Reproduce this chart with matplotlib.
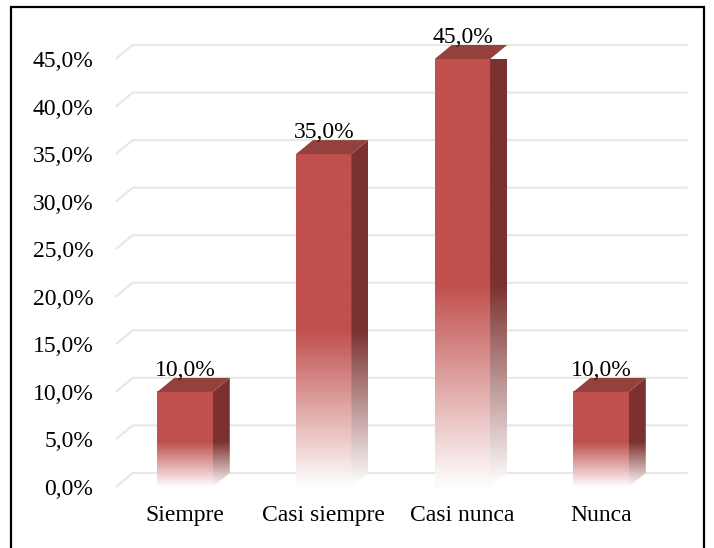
import numpy as np
import matplotlib
matplotlib.use("Agg")
import matplotlib.pyplot as plt
from matplotlib.patches import Polygon, Rectangle
from matplotlib import transforms

categories = ["Siempre", "Casi siempre", "Casi nunca", "Nunca"]
values = [10.0, 35.0, 45.0, 10.0]
y_ticks = [0, 5, 10, 15, 20, 25, 30, 35, 40, 45]

FRONT = np.array([0xC0, 0x50, 0x4D]) / 255
TOP = "#94403D"
SIDE = np.array([0x7B, 0x32, 0x30]) / 255
GRID = "#E8E8E8"
FADE = 0.47          # lower part of each bar that fades out to white

plt.rcParams["font.family"] = ["Liberation Serif", "DejaVu Serif"]
plt.rcParams["font.size"] = 17

W, H = 714, 548
fig = plt.figure(figsize=(W / 100, H / 100), dpi=100)
ax = fig.add_axes([115.7 / W, 61 / H, 554.7 / W, 428 / H])
ax.set_xlim(-0.5, 3.5)
ax.set_ylim(0, 45)

# depth of the fake 3D extrusion, converted from pixels to data units
px_x = (ax.transData.transform((1, 0)) - ax.transData.transform((0, 0)))[0]
px_y = (ax.transData.transform((0, 1)) - ax.transData.transform((0, 0)))[1]
dx = 17 / px_x
dy = 14 / px_y
bar_w = 0.4

# gridlines sit on the back wall, with a short slanted bit on the left wall
for v in y_ticks:
    ax.plot([-0.5, -0.5 + dx, 3.5 + dx], [v, v + dy, v + dy],
            color=GRID, lw=1.6, zorder=0, clip_on=False, solid_capstyle="butt")


def fade_image(rgb, y_top, v, n=300):
    ys = np.linspace(0, y_top, n)
    t = np.clip(ys / (FADE * v), 0.03, 1.0)[:, None]
    col = 1 - (1 - rgb[None, :]) * t
    return np.repeat(col[:, None, :], 2, axis=1)


for i, v in enumerate(values):
    x0, x1 = i - bar_w / 2, i + bar_w / 2

    # front face
    ax.imshow(fade_image(FRONT, v, v), extent=[x0, x1, 0, v], origin="lower",
              aspect="auto", interpolation="bilinear", zorder=2)

    # right side face
    side = Polygon([(x1, 0), (x1 + dx, dy), (x1 + dx, v + dy), (x1, v)],
                   closed=True, facecolor="none", edgecolor="none",
                   transform=ax.transData)
    ax.add_patch(side)
    im = ax.imshow(fade_image(SIDE, v + dy, v), extent=[x1, x1 + dx, 0, v + dy],
                   origin="lower", aspect="auto", interpolation="bilinear", zorder=2)
    im.set_clip_path(side)

    # top face
    ax.add_patch(Polygon([(x0, v), (x1, v), (x1 + dx, v + dy), (x0 + dx, v + dy)],
                         closed=True, facecolor=TOP, edgecolor="none", zorder=3,
                         clip_on=False))

    # value label
    lift = transforms.offset_copy(ax.transData, fig=fig, x=0, y=2, units="dots")
    ax.text(i, v + dy, f"{v:.1f}%".replace(".", ","), ha="center", va="baseline",
            transform=lift, zorder=4, clip_on=False)

ax.set_xlim(-0.5, 3.5)
ax.set_ylim(0, 45)
ax.set_xticks(range(len(categories)))
ax.set_xticklabels(categories)
ax.set_yticks(y_ticks)
ax.set_yticklabels([f"{t:.1f}%".replace(".", ",") for t in y_ticks])
ax.tick_params(axis="y", length=0, pad=16)
ax.tick_params(axis="x", length=0, pad=13)
for s in ax.spines.values():
    s.set_visible(False)

# outer frame
fig.add_artist(Rectangle((11 / W, -0.05), (704 - 11) / W, 1.05 - 7 / H,
                         transform=fig.transFigure, fill=False,
                         edgecolor="black", lw=1.6))

fig.savefig("out.png", dpi=100)
